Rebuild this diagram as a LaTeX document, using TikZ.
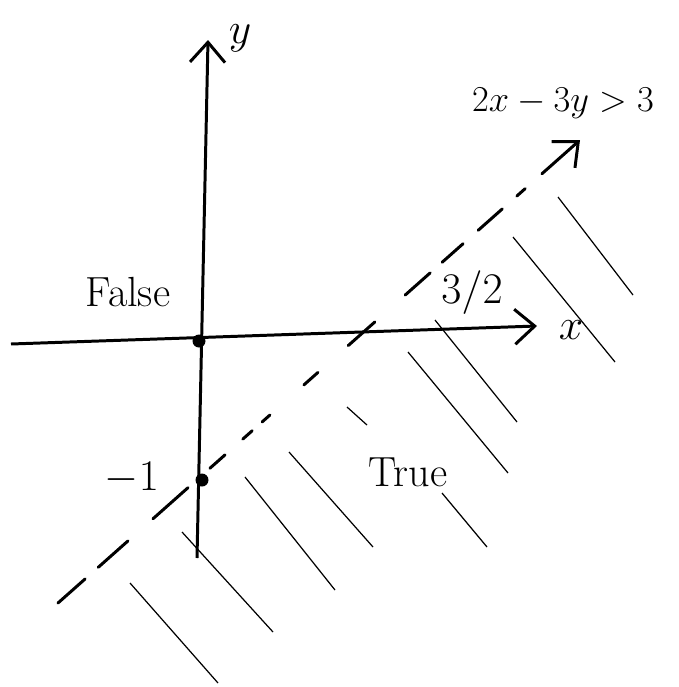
\documentclass[tikz,border=0pt]{standalone}
\usepackage{amsmath,amssymb}
\usetikzlibrary{calc,arrows.meta}

\begin{document}
\begin{tikzpicture}[x=0.02cm, y=-0.02cm,
	>={Straight Barb[length=4mm,width=7mm]},
	axis/.style={line width=1.7pt, ->},
	dashline/.style={line width=1.7pt, line cap=round},
	hatch/.style={line width=0.7pt},
	lbl/.style={font=\fontsize{24}{28}\selectfont}]

	\useasboundingbox (0,0) rectangle (679,687);

	\coordinate (O) at (199,341);
	\coordinate (M) at (202,480);
	\coordinate (XL) at (11,344);
	\coordinate (XR) at (537,326);
	\coordinate (YB) at (197,558);
	\coordinate (YT) at (208,40);
	\coordinate (LA) at (58,603);
	\coordinate (LB) at (580,140);

	\draw[axis] (XL) -- (XR);
	\draw[axis] (YB) -- (YT);

	\fill (O) circle (1.3mm);
	\fill (M) circle (1.3mm);

	% the line 2x - 3y = 3
	\draw[dashline] ($(LA)!0.000!(LB)$) -- ($(LA)!0.052!(LB)$);
	\draw[dashline] ($(LA)!0.077!(LB)$) -- ($(LA)!0.134!(LB)$);
	\draw[dashline] ($(LA)!0.182!(LB)$) -- ($(LA)!0.249!(LB)$);
	\draw[dashline] ($(LA)!0.291!(LB)$) -- ($(LA)!0.320!(LB)$);
	\draw[dashline] ($(LA)!0.354!(LB)$) -- ($(LA)!0.372!(LB)$);
	\draw[dashline] ($(LA)!0.391!(LB)$) -- ($(LA)!0.406!(LB)$);
	\draw[dashline] ($(LA)!0.471!(LB)$) -- ($(LA)!0.498!(LB)$);
	\draw[dashline] ($(LA)!0.556!(LB)$) -- ($(LA)!0.607!(LB)$);
	\draw[dashline] ($(LA)!0.665!(LB)$) -- ($(LA)!0.713!(LB)$);
	\draw[dashline] ($(LA)!0.736!(LB)$) -- ($(LA)!0.776!(LB)$);
	\draw[dashline] ($(LA)!0.805!(LB)$) -- ($(LA)!0.851!(LB)$);
	\draw[dashline] ($(LA)!0.879!(LB)$) -- ($(LA)!0.895!(LB)$);
	\draw[dashline, ->] ($(LA)!0.927!(LB)$) -- (LB);

	% hatching of the true side
	\draw[hatch] (558,197) -- (633,295);
	\draw[hatch] (513,237) -- (615,362);
	\draw[hatch] (435,320) -- (517,422);
	\draw[hatch] (408,352) -- (508,473);
	\draw[hatch] (347,407) -- (367,425);
	\draw[hatch] (289,452) -- (373,547);
	\draw[hatch] (442,493) -- (487,547);
	\draw[hatch] (245,477) -- (335,590);
	\draw[hatch] (182,532) -- (273,632);
	\draw[hatch] (130,583) -- (218,683);

	\node[lbl] (ylab) at (240,38) {$y$};
	\node[lbl] (xlab) at (571,330) {$x$};
	\node[lbl, font=\fontsize{21}{25}\selectfont] (ineq) at (563,103) {$2x-3y>3$};
	\node[lbl] (false) at (128,292) {False};
	\node[lbl] (true) at (408,472) {True};
	\node[lbl] (mone) at (132,478) {$-1$};
	\node[lbl] (half) at (472,293) {$3/2$};

\end{tikzpicture}
\end{document}
